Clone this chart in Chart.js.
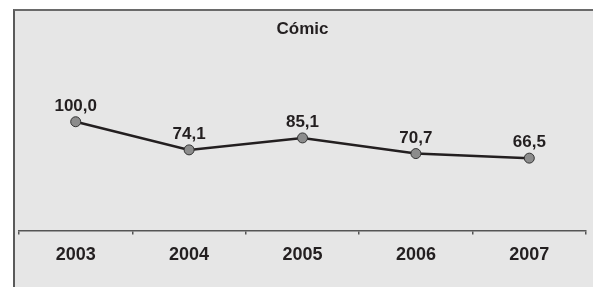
<!DOCTYPE html>
<html>
<head>
<meta charset="utf-8">
<script src="https://cdn.jsdelivr.net/npm/chart.js@4/dist/chart.umd.min.js"></script>
<style>
  html, body { margin: 0; padding: 0; background: #fff; overflow: hidden; }
  #wrap { position: relative; width: 593px; height: 287px; overflow: hidden; }
  #frame { position: absolute; left: 13px; top: 9px; width: 600px; height: 300px;
           background: #e6e6e6; border-left: 2px solid #5a5a5a; border-top: 2px solid #6a6a6a; }
  #c { position: absolute; left: 0; top: 0; }
</style>
</head>
<body>
<div id="wrap">
  <div id="frame"></div>
  <canvas id="c" width="593" height="287"></canvas>
</div>
<script>
const titleText = "Cómic";
const categories = ["2003", "2004", "2005", "2006", "2007"];
const values = [100.0, 74.1, 85.1, 70.7, 66.5];

const valueLabels = {
  id: 'valueLabels',
  afterDatasetsDraw(chart) {
    const ctx = chart.ctx;
    const meta = chart.getDatasetMeta(0);
    ctx.save();
    ctx.font = 'bold 17px "Liberation Sans", Arial, sans-serif';
    ctx.fillStyle = '#231f20';
    ctx.textAlign = 'center';
    ctx.textBaseline = 'alphabetic';
    meta.data.forEach((pt, i) => {
      const txt = values[i].toFixed(1).replace('.', ',');
      ctx.fillText(txt, pt.x, pt.y - 11);
    });
    ctx.restore();
  }
};

new Chart(document.getElementById('c'), {
  type: 'line',
  data: {
    labels: categories,
    datasets: [{
      data: values,
      borderColor: '#231f20',
      borderWidth: 2.5,
      pointRadius: 5,
      pointBackgroundColor: '#8c8c8c',
      pointBorderColor: '#333',
      pointBorderWidth: 1,
      tension: 0,
      clip: false
    }]
  },
  options: {
    responsive: false,
    animation: false,
    layout: { padding: { left: 19, right: 7, top: 0, bottom: 11 } },
    plugins: {
      legend: { display: false },
      tooltip: { enabled: false },
      title: {
        display: true,
        text: titleText,
        color: '#231f20',
        font: { family: '"Liberation Sans", Arial, sans-serif', size: 17, weight: 'bold' },
        padding: { top: 19, bottom: 3 }
      }
    },
    scales: {
      x: {
        offset: true,
        grid: { offset: true, drawOnChartArea: false, drawTicks: true, tickLength: 4, color: '#555', lineWidth: 1.5 },
        border: { display: true, color: '#555', width: 1.5 },
        ticks: { color: '#231f20', padding: 10, font: { family: '"Liberation Sans", Arial, sans-serif', size: 18, weight: 'bold' } }
      },
      y: {
        display: false,
        min: 0,
        max: 173
      }
    }
  },
  plugins: [valueLabels]
});
</script>
</body>
</html>
